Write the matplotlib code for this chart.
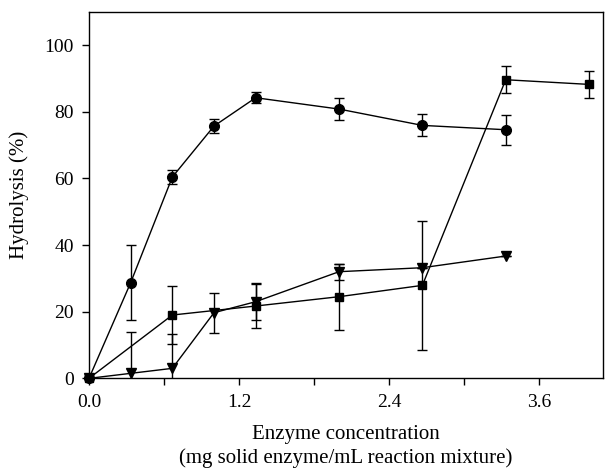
import numpy as np
import matplotlib.pyplot as plt

plt.rcParams['font.family'] = ['Liberation Serif', 'DejaVu Serif']

x_circ = [0, 1/3, 2/3, 1.0, 4/3, 2.0, 8/3, 10/3]
y_circ = [0, 28.7, 60.4, 75.7, 84.2, 80.8, 75.9, 74.6]
e_circ = [0, 11.3, 2.0, 2.0, 1.6, 3.4, 3.3, 4.5]

x_sq = [0, 2/3, 4/3, 2.0, 8/3, 10/3, 4.0]
y_sq = [0, 19.0, 21.7, 24.5, 27.9, 89.6, 88.2]
e_sq = [0, 8.6, 6.7, 9.9, 19.4, 4.0, 4.1]

x_tri = [0, 1/3, 2/3, 1.0, 4/3, 2.0, 8/3, 10/3]
y_tri = [0, 1.5, 3.0, 19.7, 23.0, 32.0, 33.2, 36.7]
e_tri = [0, 12.5, 10.2, 6.0, 5.5, 2.4, 0, 0]

fig = plt.figure(figsize=(6.12, 4.70), dpi=100)
ax = fig.add_axes([0.1454, 0.195, 0.8396, 0.780])

kw = dict(color='black', linewidth=1.0, elinewidth=1.0, capsize=3.8, capthick=1.0)
for xs, ys, es, m, ms in [(x_circ, y_circ, e_circ, 'o', 7),
                          (x_sq, y_sq, e_sq, 's', 6.3),
                          (x_tri, y_tri, e_tri, 'v', 7)]:
    line, caps, bars = ax.errorbar(xs, ys, yerr=es, marker=m, markersize=ms, **kw)
    line.set_clip_on(False)

ax.set_xlim(0, 4.11)
ax.set_ylim(0, 110)
ax.set_xticks([0.0, 1.2, 2.4, 3.6])
ax.set_xticklabels(['0.0', '1.2', '2.4', '3.6'])
ax.set_xticks([0.6, 1.8, 3.0], minor=True)
ax.set_yticks([0, 20, 40, 60, 80, 100])
ax.tick_params(axis='both', which='major', direction='out', length=5, width=1.0,
               labelsize=14, pad=6)
ax.tick_params(axis='x', which='minor', direction='out', length=5, width=1.0)
for s in ax.spines.values():
    s.set_linewidth(1.0)

ax.set_xlabel('Enzyme concentration\n(mg solid enzyme/mL reaction mixture)',
              fontsize=15, linespacing=1.35, labelpad=10)
ax.set_ylabel('Hydrolysis (%)', fontsize=15, labelpad=11)

fig.savefig('out.png', dpi=100)
